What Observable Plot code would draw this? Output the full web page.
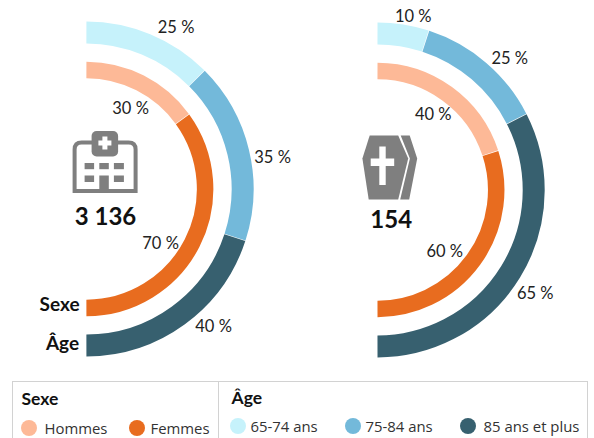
<!DOCTYPE html>
<html lang="fr">
<head>
<meta charset="utf-8">
<script src="https://cdn.jsdelivr.net/npm/d3@7"></script>
<script src="https://cdn.jsdelivr.net/npm/@observablehq/plot@0.6"></script>
<style>
html,body{margin:0;padding:0;background:#fff;overflow:hidden}
#page{position:relative;width:594px;height:438px;overflow:hidden;font-family:"Open Sans",sans-serif;color:#222}
#page>div.p{position:absolute;top:0}
#legend{position:absolute;left:12px;top:381px;width:576px;height:70px;border:1.5px solid #d2d2d2;box-sizing:border-box}
#legend .div{position:absolute;top:0;bottom:0;border-left:1.5px solid #d2d2d2}
#legend .h{position:absolute;font:bold 17.5px Lato,sans-serif;color:#111}
#legend .c{position:absolute;width:16px;height:16px;border-radius:50%}
#legend .t{position:absolute;font-size:14.9px;line-height:18px;color:#333;white-space:nowrap}
</style>
</head>
<body>
<div id="page"></div>
<script>
const sexeLabels = ["Hommes", "Femmes"];
const ageLabels = ["65-74 ans", "75-84 ans", "85 ans et plus"];
const sexeColors = ["#fdb997", "#e86c1f"];
const ageColors = ["#c6f2fb", "#73b9da", "#37606f"];
const hospSexe = [30, 70];
const hospAge = [25, 35, 40];
const decesSexe = [40, 60];
const decesAge = [10, 25, 65];
const hospTotal = "3 136";
const decesTotal = "154";

const gray = "#7f7f7f";
const sexeRing = {r: 119, w: 16.5};
const ageRing = {r: 156.5, w: 22};

function segments(values, colors, ring) {
  let c = 0;
  return values.map((v, i) => {
    const a0 = c / 100 * Math.PI; c += v;
    const a1 = c / 100 * Math.PI;
    return {
      x1: ring.r * Math.sin(a0), y1: -ring.r * Math.cos(a0),
      x2: ring.r * Math.sin(a1), y2: -ring.r * Math.cos(a1),
      value: v, color: colors[i], width: ring.w
    };
  });
}
const arcMark = s => Plot.arrow([s], {
  x1: "x1", y1: "y1", x2: "x2", y2: "y2",
  bend: s.value / 100 * 90,
  stroke: "color", strokeWidth: "width",
  strokeLinecap: "butt", headLength: 0, insetStart: 0.3, insetEnd: 0.3
});
const labelMark = rows => Plot.text(rows, {
  x: "x", y: "y", text: d => d.v + " %",
  fontFamily: "Lato, sans-serif", fontSize: 16.5, fill: "#222"
});
const icon = html => (index, {x, y}) => {
  const g = d3.create("svg:g").attr("transform", `translate(${x(0)},${y(0)})`);
  g.html(html);
  return g.node();
};

function hospitalGlyph() {
  return `<g fill="${gray}">
  <path d="M7,-46 H-4 Q-11,-46 -11,-39 V2.5 H50 V-39 Q50,-46 43,-46 H32" fill="none" stroke="${gray}" stroke-width="4"/>
  <rect x="6" y="-57.5" width="26.5" height="25.5" rx="5"/>
  <path d="M16.8,-52 h5 v4 h4 v5 h-4 v4 h-5 v-4 h-4 v-5 h4 z" fill="#fff"/>
  <rect x="-1" y="-25.5" width="9.5" height="6.2"/><rect x="13.7" y="-25.5" width="9.5" height="6.2"/><rect x="28.3" y="-25.5" width="10" height="6.2"/>
  <rect x="-1" y="-13" width="9.5" height="6.5"/><rect x="28.3" y="-13" width="10" height="6.5"/>
  <rect x="13.7" y="-13" width="9.5" height="17"/>
  </g>`;
}
function coffinGlyph() {
  return `<g fill="${gray}">
  <path d="M-7,-54 H21.5 L31.5,-31 L21.5,10 H-8 L-14.3,-31 Z"/>
  <path d="M24,-54 H33 L40.5,-31 L32.5,10 H23.5 L33.2,-31 Z"/>
  <path d="M2.6,-43 H9 V-31 H17.5 V-23.5 H9 V-4.5 H2.6 V-23.5 H-6 V-31 H2.6 Z" fill="#fff"/>
  </g>`;
}

function chart(cfg) {
  return Plot.plot({
    width: cfg.width, height: 375, margin: 0,
    style: {background: "transparent", overflow: "visible"},
    x: {domain: [-cfg.cx, cfg.width - cfg.cx], range: [0, cfg.width], axis: null},
    y: {domain: [-cfg.cy, 375 - cfg.cy], range: [0, 375], axis: null},
    marks: [
      ...segments(cfg.age, ageColors, ageRing).map(arcMark),
      ...segments(cfg.sexe, sexeColors, sexeRing).map(arcMark),
      labelMark(cfg.labels),
      icon(cfg.glyph),
      Plot.text([cfg.total], {x: cfg.totalX, y: cfg.totalY, text: d => d,
        fontFamily: "Lato, sans-serif", fontWeight: "bold", fontSize: 24, fill: "#111"}),
      ...(cfg.names || [])
    ]
  });
}

const nameStyle = {textAnchor: "end", fontFamily: "Lato, sans-serif", fontWeight: "bold", fontSize: 19, fill: "#111"};
const ringNames = [
  Plot.text(["Sexe"], {x: -6.5, y: 116, text: d => d, ...nameStyle}),
  Plot.text(["Âge"], {x: -7, y: 155, text: d => d, ...nameStyle})
];

const page = document.getElementById("page");
const left = document.createElement("div");
left.className = "p"; left.style.left = "0px";
left.append(chart({
  width: 290, cx: 85.6, cy: 188.5, age: hospAge, sexe: hospSexe,
  labels: [
    {x: 90, y: -161, v: hospAge[0]}, {x: 186.5, y: -31.5, v: hospAge[1]}, {x: 127.5, y: 137.5, v: hospAge[2]},
    {x: 44.5, y: -80.5, v: hospSexe[0]}, {x: 74.5, y: 54.5, v: hospSexe[1]}
  ],
  glyph: hospitalGlyph(), total: hospTotal, totalX: 19.4, totalY: 28, names: ringNames
}));
const right = document.createElement("div");
right.className = "p"; right.style.left = "290px";
right.append(chart({
  width: 304, cx: 86.7, cy: 189.5, age: decesAge, sexe: decesSexe,
  labels: [
    {x: 36, y: -173.5, v: decesAge[0]}, {x: 132.5, y: -131.5, v: decesAge[1]}, {x: 158, y: 104, v: decesAge[2]},
    {x: 56, y: -75.5, v: decesSexe[0]}, {x: 67.5, y: 61.5, v: decesSexe[1]}
  ],
  glyph: coffinGlyph(), total: decesTotal, totalX: 14, totalY: 30.5
}));
page.append(left, right);

// Legend
const legend = document.createElement("div");
legend.id = "legend";
const add = (cls, x, y, txt, color) => {
  const e = document.createElement("div");
  e.className = cls; e.style.left = x + "px"; e.style.top = y + "px";
  if (txt) e.textContent = txt;
  if (color) e.style.background = color;
  legend.append(e);
};
add("div", 205, 0);
add("h", 8.5, 5.5, "Sexe");
add("h", 218.5, 5, "Âge");
[[7.5, 31.5], [115.5, 137.5]].forEach(([c, t], i) => {
  add("c", c, 38, null, sexeColors[i]);
  add("t", t, 37, sexeLabels[i]);
});
[[216.5, 237.5], [331.5, 352.5], [447, 470.5]].forEach(([c, t], i) => {
  add("c", c, 36, null, ageColors[i]);
  add("t", t, 34.5, ageLabels[i]);
});
page.append(legend);
</script>
</body>
</html>
